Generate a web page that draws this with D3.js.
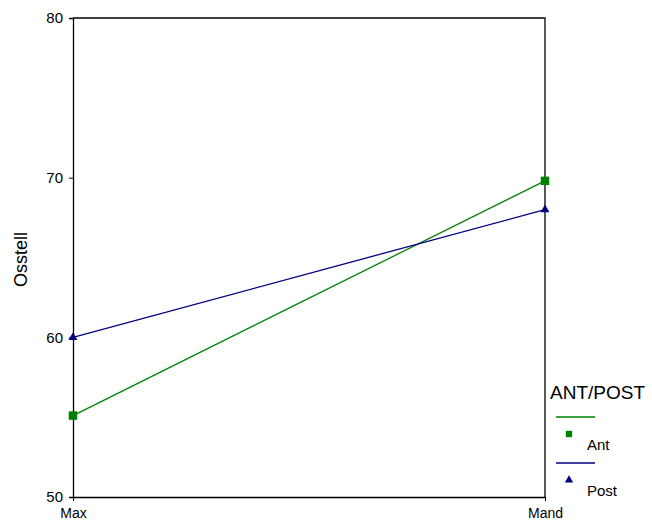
<!DOCTYPE html>
<html>
<head>
<meta charset="utf-8">
<script src="https://cdn.jsdelivr.net/npm/d3@7"></script>
<style>
  body { margin: 0; background: #fff; }
  svg { font-family: "Liberation Sans", Arial, sans-serif; }
</style>
</head>
<body>
<div id="chart"></div>
<script>
// data
const categories = ["Max", "Mand"];
const antValues = [55.1, 69.8];
const postValues = [60, 68];
const yTicks = [50, 60, 70, 80];
const seriesNames = ["Ant", "Post"];

const width = 652, height = 520;
const margin = {top: 18, right: 107, bottom: 23, left: 73};

const svg = d3.select("#chart").append("svg")
	.attr("width", width)
	.attr("height", height);

const x = d3.scalePoint()
	.domain(categories)
	.range([margin.left, width - margin.right]);

const y = d3.scaleLinear()
	.domain([50, 80])
	.range([height - margin.bottom, margin.top]);

// frame: top and right lines
svg.append("path")
	.attr("d", "M" + margin.left + "," + y(80) + "H" + x("Mand") + "V" + y(50))
	.attr("fill", "none")
	.attr("stroke", "#000")
	.attr("stroke-width", 1.3);

// y axis
const yAxis = svg.append("g")
	.attr("transform", "translate(" + margin.left + ",0)")
	.call(d3.axisLeft(y).tickValues(yTicks).tickSize(4).tickPadding(6));
yAxis.select(".domain").attr("stroke-width", 1.3);
yAxis.selectAll("text").style("font-size", "15px").attr("fill", "#000");

// x axis
const xAxis = svg.append("g")
	.attr("transform", "translate(0," + y(50) + ")")
	.call(d3.axisBottom(x).tickSize(4).tickPadding(7).tickSizeOuter(0));
xAxis.select(".domain").attr("stroke-width", 1.3);
xAxis.selectAll("text").style("font-size", "14px").attr("fill", "#000");

// y label
svg.append("text")
	.attr("transform", "translate(27," + (margin.top + (y(50) - margin.top) / 2 + 2) + ") rotate(-90)")
	.attr("text-anchor", "middle")
	.style("font-size", "18px")
	.text("Osstell");

const line = d3.line()
	.x(function(d, i){ return x(categories[i]); })
	.y(function(d){ return y(d); });

const green = "#008000", navy = "#000080";

svg.append("path").datum(antValues)
	.attr("d", line).attr("fill", "none")
	.attr("stroke", green).attr("stroke-width", 1.3);
svg.append("path").datum(postValues)
	.attr("d", line).attr("fill", "none")
	.attr("stroke", navy).attr("stroke-width", 1.3);

const squareSym = d3.symbol().type(d3.symbolSquare).size(72);
const triSym = d3.symbol().type(d3.symbolTriangle).size(34);

svg.selectAll(".ant-pt").data(antValues).enter().append("path")
	.attr("class", "ant-pt")
	.attr("transform", function(d, i){ return "translate(" + x(categories[i]) + "," + y(d) + ")"; })
	.attr("d", squareSym)
	.attr("fill", green);

svg.selectAll(".post-pt").data(postValues).enter().append("path")
	.attr("class", "post-pt")
	.attr("transform", function(d, i){ return "translate(" + x(categories[i]) + "," + y(d) + ")"; })
	.attr("d", triSym)
	.attr("fill", navy);

// legend
const legend = svg.append("g").attr("transform", "translate(550,0)");
legend.append("text")
	.attr("x", 0).attr("y", 399)
	.style("font-size", "19px")
	.text("ANT/POST");

const legendColors = [green, navy];
const legendSyms = [d3.symbol().type(d3.symbolSquare).size(40), d3.symbol().type(d3.symbolTriangle).size(30)];
seriesNames.forEach(function(name, i){
	const top = 417 + i * 46;
	legend.append("line")
		.attr("x1", 6).attr("x2", 45)
		.attr("y1", top).attr("y2", top)
		.attr("stroke", legendColors[i]).attr("stroke-width", 1.3);
	legend.append("path")
		.attr("transform", "translate(19," + (top + 17) + ")")
		.attr("d", legendSyms[i])
		.attr("fill", legendColors[i]);
	legend.append("text")
		.attr("x", 37).attr("y", top + 33)
		.style("font-size", "15px")
		.text(name);
});
</script>
</body>
</html>
